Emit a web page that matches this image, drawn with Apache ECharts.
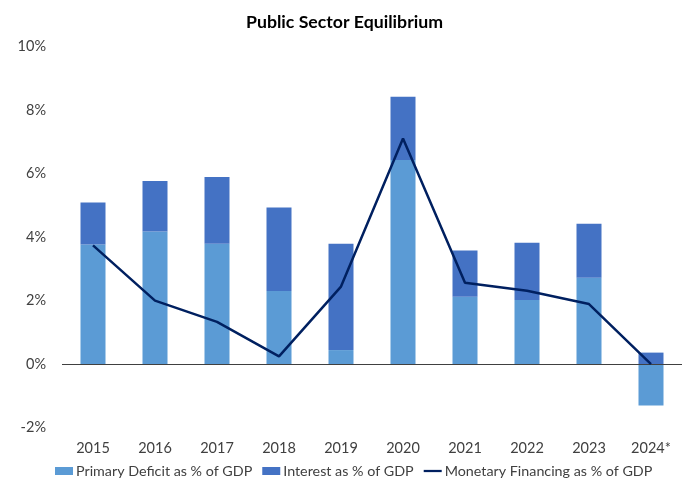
<!DOCTYPE html>
<html>
<head>
<meta charset="utf-8">
<script src="https://cdn.jsdelivr.net/npm/echarts@6/dist/echarts.min.js"></script>
<style>
  html, body { margin: 0; padding: 0; background: #fff; }
  #chart { width: 689px; height: 483px; }
</style>
</head>
<body>
<div id="chart"></div>
<script>
// Public Sector Equilibrium
var years = ['2015', '2016', '2017', '2018', '2019', '2020', '2021', '2022', '2023', '2024*'];
var primaryDeficit = [3.77, 4.18, 3.79, 2.30, 0.44, 6.43, 2.12, 2.02, 2.72, -1.31];
var interest = [1.32, 1.59, 2.10, 2.63, 3.35, 1.99, 1.46, 1.80, 1.70, 0.36];
var monetaryFinancing = [3.74, 2.00, 1.33, 0.24, 2.44, 7.11, 2.56, 2.31, 1.89, 0.00];

var font = 'Lato';
var chart = echarts.init(document.getElementById('chart'));
var option = {
  backgroundColor: '#fff',
  textStyle: { fontFamily: font },
  title: {
    text: 'Public Sector Equilibrium',
    left: 'center',
    top: 8,
    textStyle: { fontFamily: font, fontSize: 17.7, fontWeight: 'bold', color: '#000' }
  },
  legend: {
    top: 464,
    left: 55,
    padding: 0,
    itemGap: 10,
    itemWidth: 18,
    itemHeight: 8,
    textStyle: { fontFamily: font, fontSize: 14.3, color: '#404040', padding: [0, 0, 0, -2] },
    data: [
      { name: 'Primary Deficit as % of GDP', icon: 'rect' },
      { name: 'Interest as % of GDP', icon: 'rect' },
      { name: 'Monetary Financing as % of GDP', icon: 'path://M0,0 L20,0 L20,2.5 L0,2.5 Z' }
    ]
  },
  grid: { left: 62, right: 7, top: 46.7, bottom: 55.5 },
  xAxis: {
    type: 'category',
    data: years,
    axisLine: { show: false, onZero: false },
    axisTick: { show: false },
    axisLabel: { color: '#404040', fontSize: 14.5, margin: 13, fontFamily: font }
  },
  yAxis: {
    type: 'value',
    min: -2,
    max: 10,
    interval: 2,
    splitLine: { show: false },
    axisLine: { show: false },
    axisTick: { show: false },
    axisLabel: {
      color: '#404040', fontSize: 14.5, margin: 16, fontFamily: font,
      formatter: function (v) { return v + '%'; }
    }
  },
  series: [
    {
      name: 'Primary Deficit as % of GDP',
      type: 'bar',
      stack: 'total',
      barWidth: 25,
      itemStyle: { color: '#5B9BD5' },
      data: primaryDeficit,
      markLine: {
        silent: true,
        symbol: 'none',
        label: { show: false },
        lineStyle: { color: '#404040', type: 'solid', width: 1 },
        data: [{ yAxis: 0 }]
      }
    },
    {
      name: 'Interest as % of GDP',
      type: 'bar',
      stack: 'total',
      barWidth: 25,
      itemStyle: { color: '#4472C4' },
      data: interest
    },
    {
      name: 'Monetary Financing as % of GDP',
      type: 'line',
      symbol: 'none',
      z: 5,
      lineStyle: { color: '#002060', width: 2.5 },
      itemStyle: { color: '#002060' },
      data: monetaryFinancing
    }
  ]
};
chart.setOption(option);
window.addEventListener('resize', function () {
  chart.resize();
});
</script>
</body>
</html>
